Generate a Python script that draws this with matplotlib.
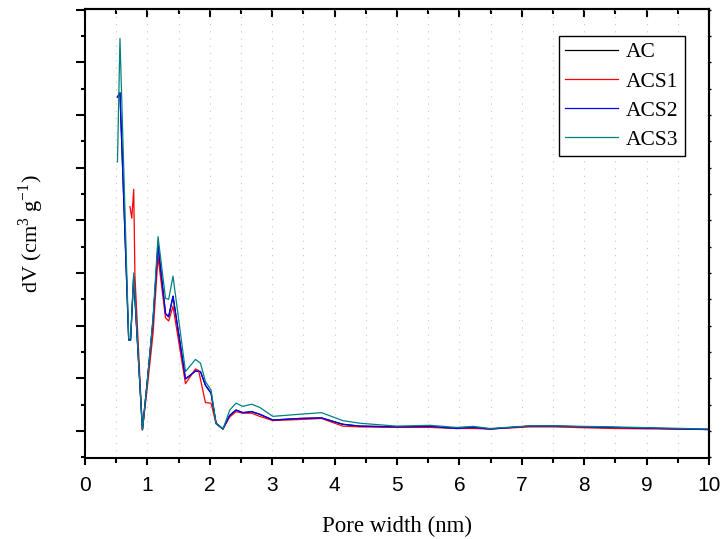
import matplotlib
matplotlib.use('Agg')
import matplotlib.pyplot as plt
from matplotlib.ticker import MultipleLocator, NullFormatter

# pore width (nm) and dV (arbitrary units)
x_main = [0.52, 0.56, 0.70, 0.73, 0.78, 0.92, 1.00, 1.09, 1.17, 1.29, 1.34, 1.41,
          1.61, 1.77, 1.85, 1.93, 2.02, 2.10, 2.21, 2.32, 2.42, 2.53, 2.67, 2.80,
          3.01, 3.44, 3.79, 4.13, 4.40, 4.99, 5.53, 5.95, 6.22, 6.49, 7.13, 7.50,
          8.46, 10.0]
ac = [6.34, 6.42, 1.73, 1.73, 2.93, 0.03, 0.97, 2.10, 3.53, 2.23, 2.17, 2.56,
      0.99, 1.14, 1.13, 0.87, 0.72, 0.15, 0.04, 0.30, 0.40, 0.35, 0.37, 0.32,
      0.21, 0.24, 0.25, 0.13, 0.095, 0.08, 0.09, 0.05, 0.07, 0.04, 0.095, 0.095,
      0.07, 0.03]
acs2 = [6.34, 6.42, 1.73, 1.73, 2.93, 0.03, 0.97, 2.10, 3.53, 2.23, 2.17, 2.56,
        0.99, 1.14, 1.13, 0.87, 0.72, 0.15, 0.04, 0.30, 0.40, 0.35, 0.37, 0.32,
        0.21, 0.24, 0.25, 0.13, 0.095, 0.08, 0.09, 0.05, 0.07, 0.04, 0.095, 0.095,
        0.07, 0.03]
acs3 = [5.11, 7.45, 1.75, 1.75, 3.00, 0.02, 0.97, 2.15, 3.69, 2.52, 2.50, 2.94,
        1.13, 1.36, 1.29, 0.94, 0.78, 0.14, 0.04, 0.40, 0.53, 0.47, 0.51, 0.45,
        0.28, 0.32, 0.35, 0.20, 0.15, 0.095, 0.11, 0.07, 0.09, 0.05, 0.10, 0.10,
        0.08, 0.04]

x_acs1 = [0.72, 0.75, 0.78, 0.80, 0.92, 1.00, 1.09, 1.17, 1.29, 1.34, 1.41, 1.61,
          1.77, 1.82, 1.93, 2.02, 2.10, 2.21, 2.32, 2.42, 2.53, 2.67, 2.80, 3.01,
          3.44, 3.79, 4.13, 4.40, 4.99, 5.53, 5.95, 6.22, 6.49, 7.13, 7.50, 8.46,
          10.0]
acs1 = [4.26, 4.04, 4.59, 2.95, 0.02, 0.85, 1.85, 3.31, 2.15, 2.09, 2.37, 0.90,
        1.18, 1.15, 0.54, 0.53, 0.14, 0.04, 0.27, 0.37, 0.34, 0.34, 0.28, 0.20,
        0.22, 0.24, 0.095, 0.08, 0.07, 0.07, 0.05, 0.05, 0.04, 0.08, 0.08, 0.05,
        0.03]

plt.rcParams['font.family'] = ['Liberation Serif', 'DejaVu Serif']
plt.rcParams['mathtext.fontset'] = 'custom'
plt.rcParams['mathtext.rm'] = 'Liberation Serif'

fig = plt.figure(figsize=(7.23, 5.39), dpi=100)
ax = fig.add_axes([0.1176, 0.1503, 0.8630, 0.8330])

ax.plot(x_main, ac, c='black', lw=0.9, label='AC')
ax.plot(x_acs1, acs1, c='#ff0000', lw=0.9, label='ACS1')
ax.plot(x_main, acs2, c='#0000ff', lw=0.9, label='ACS2')
ax.plot(x_main, acs3, c='#008080', lw=0.9, label='ACS3')

ax.set_xlim(0, 10)
ax.set_ylim(-0.51, 8.01)

ax.xaxis.set_major_locator(MultipleLocator(1))
ax.xaxis.set_minor_locator(MultipleLocator(0.5))
ax.yaxis.set_major_locator(MultipleLocator(1))
ax.yaxis.set_minor_locator(MultipleLocator(0.5))
ax.yaxis.set_major_formatter(NullFormatter())

# dotted vertical grid at every half nm
ax.grid(True, axis='x', which='both', color='#c8c8c8', lw=0.8,
        linestyle=(0, (1, 5.5)))
ax.set_axisbelow(True)

for s in ax.spines.values():
    s.set_linewidth(1.5)

ax.tick_params(axis='x', which='major', direction='out', length=5, width=1.5,
               labelsize=15, pad=8)
ax.tick_params(axis='x', which='minor', direction='out', length=3.4, width=1.5)
ax.tick_params(axis='y', which='major', direction='out', length=6.5, width=1.5)
ax.tick_params(axis='y', which='minor', direction='out', length=3.2, width=1.5)
for lab in ax.get_xticklabels():
    lab.set_family(['Liberation Sans Narrow', 'Liberation Sans'])

# top ticks point into the plot
top = ax.secondary_xaxis('top')
top.xaxis.set_major_locator(MultipleLocator(1))
top.xaxis.set_minor_locator(MultipleLocator(0.5))
top.xaxis.set_major_formatter(NullFormatter())
top.tick_params(axis='x', which='major', direction='in', length=6, width=1.5)
top.tick_params(axis='x', which='minor', direction='in', length=3.5, width=1.5)
top.spines['top'].set_linewidth(1.5)

# tiny ticks on the right side
right = ax.secondary_yaxis('right')
right.yaxis.set_major_locator(MultipleLocator(0.5))
right.yaxis.set_major_formatter(NullFormatter())
right.tick_params(axis='y', which='major', direction='out', length=1.5, width=1)
right.spines['right'].set_linewidth(1.5)

ax.set_xlabel('Pore width (nm)', fontsize=16.5, labelpad=15)
ax.set_ylabel('dV (cm$^3$ g$^{-1}$)', fontsize=16, labelpad=18)

leg = ax.legend(loc='upper right', bbox_to_anchor=(0.9615, 0.94),
                borderaxespad=0, fontsize=15.5, handlelength=2.45,
                handletextpad=0.37, labelspacing=0.42, borderpad=0.3,
                fancybox=False, framealpha=1, edgecolor='black')
leg.get_frame().set_linewidth(1.0)

fig.savefig('out.png', dpi=100)
